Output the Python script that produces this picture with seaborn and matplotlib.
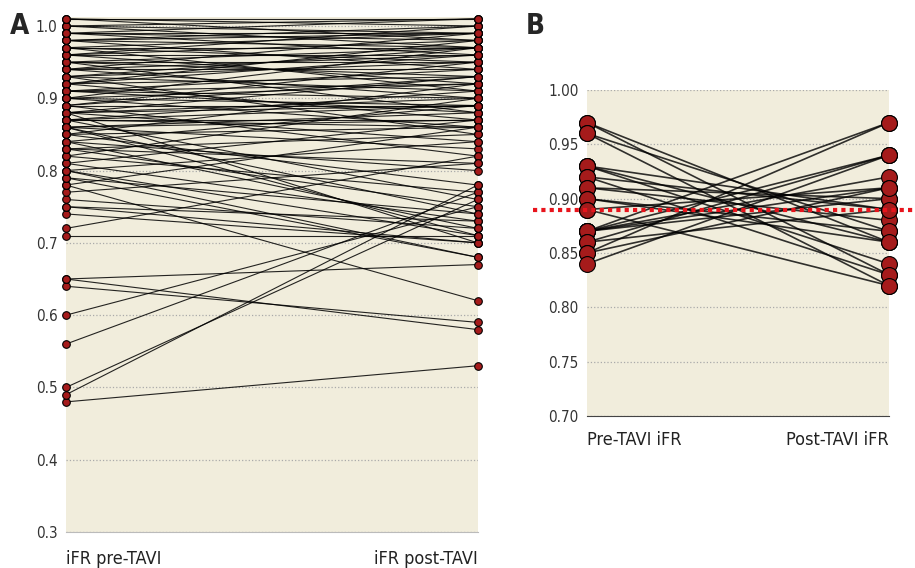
import pandas as pd
import matplotlib.pyplot as plt
import seaborn as sns

# panel A: iFR before / after TAVI, one pair per vessel
pre_a = [0.48, 0.49, 0.50, 0.56, 0.60, 0.64, 0.65, 0.65, 0.71, 0.72,
         0.74, 0.75, 0.75, 0.76, 0.77, 0.78, 0.78, 0.79, 0.79, 0.80,
         0.80, 0.80, 0.81, 0.81, 0.82, 0.82, 0.83, 0.83, 0.84, 0.84,
         0.85, 0.85, 0.86, 0.87, 0.88, 0.86,
         0.86, 0.86, 0.87, 0.87, 0.87, 0.88, 0.88, 0.88, 0.89, 0.89,
         0.89, 0.90, 0.90, 0.90, 0.91, 0.91, 0.91, 0.92, 0.92, 0.92,
         0.93, 0.93, 0.93, 0.94, 0.94, 0.94, 0.95, 0.95, 0.95, 0.96,
         0.96, 0.96, 0.97, 0.97, 0.97, 0.98, 0.98, 0.98, 0.99, 0.99,
         0.99, 1.00, 1.00, 1.00, 1.01, 1.01, 1.01,
         0.94, 0.95, 0.96, 0.97, 0.98, 0.99, 0.93, 0.92, 0.91, 0.90,
         0.89, 0.88, 0.87, 0.86, 0.85, 0.84, 0.83]
post_a = [0.53, 0.78, 0.76, 0.77, 0.75, 0.59, 0.58, 0.67, 0.71, 0.82,
          0.70, 0.70, 0.73, 0.72, 0.81, 0.62, 0.86, 0.68, 0.74, 0.68,
          0.71, 0.84, 0.73, 0.87, 0.77, 0.90, 0.75, 0.85, 0.72, 0.89,
          0.78, 0.92, 0.74, 0.76, 0.70, 0.71,
          0.88, 0.83, 0.87, 0.91, 0.86, 0.93, 0.84, 0.89, 0.89, 0.95,
          0.82, 0.86, 0.92, 0.97, 0.88, 0.94, 0.90, 0.87, 0.93, 0.98,
          0.91, 0.95, 0.85, 0.96, 0.90, 0.99, 0.93, 0.97, 0.88, 0.98,
          0.92, 1.00, 0.95, 0.99, 0.91, 0.97, 1.00, 0.94, 0.98, 1.01,
          0.96, 0.99, 1.01, 0.97, 1.00, 1.01, 0.98,
          0.94, 0.95, 0.96, 0.97, 0.99, 0.99, 0.97, 0.96, 0.92, 0.89,
          0.93, 0.90, 0.89, 0.87, 0.86, 0.80, 0.81]

# panel B: vessels with pre-TAVI iFR in the grey zone
pre_b = [0.97, 0.97, 0.96, 0.96, 0.93, 0.93, 0.93, 0.92, 0.92, 0.91,
         0.91, 0.90, 0.90, 0.89, 0.89, 0.87, 0.87, 0.87, 0.87, 0.87,
         0.86, 0.86, 0.85, 0.85, 0.84]
post_b = [0.86, 0.83, 0.87, 0.82, 0.89, 0.86, 0.84, 0.89, 0.83, 0.90,
          0.88, 0.87, 0.86, 0.82, 0.91, 0.97, 0.94, 0.92, 0.91, 0.90,
          0.94, 0.89, 0.97, 0.91, 0.94]
cutoff = 0.89

labels_a = ['iFR pre-TAVI', 'iFR post-TAVI']
labels_b = ['Pre-TAVI iFR', 'Post-TAVI iFR']

BG = '#f1eddc'
DOT = '#a51b1b'

sns.set_style('white')
plt.rcParams['font.family'] = ['DejaVu Sans']
plt.rcParams['font.stretch'] = 'condensed'


def long_table(pre, post):
    rows = []
    for i, (a, b) in enumerate(zip(pre, post)):
        rows.append({'pid': i, 'pos': 0, 'iFR': a})
        rows.append({'pid': i, 'pos': 1, 'iFR': b})
    return pd.DataFrame(rows)


def draw_panel(ax, df, lw, ms, alpha):
    ax.set_facecolor(BG)
    sns.lineplot(data=df, x='pos', y='iFR', units='pid', estimator=None,
                 color='black', lw=lw, alpha=alpha, ax=ax, legend=False)
    sns.scatterplot(data=df, x='pos', y='iFR', color=DOT, edgecolor='black',
                    linewidth=0.8, s=ms, ax=ax, clip_on=False, zorder=5, legend=False)
    ax.set_xlim(0, 1)
    ax.set_xticks([])
    ax.set_xlabel('')
    ax.set_ylabel('')
    for s in ['top', 'right', 'left']:
        ax.spines[s].set_visible(False)
    ax.tick_params(axis='y', length=0, pad=6, colors='#333333')
    ax.yaxis.grid(True, linestyle=':', color='#aaaaaa', lw=0.9)
    ax.set_axisbelow(True)


fig = plt.figure(figsize=(9.15, 5.68), dpi=100)

ax1 = fig.add_axes([0.0721, 0.0634, 0.450, 0.9067])
draw_panel(ax1, long_table(pre_a, post_a), 0.8, 30, 0.85)
ax1.set_ylim(0.3, 1.0125)
ax1.set_yticks([0.3, 0.4, 0.5, 0.6, 0.7, 0.8, 0.9, 1.0])
ax1.set_yticklabels(['0.3', '0.4', '0.5', '0.6', '0.7', '0.8', '0.9', '1.0'], fontsize=11)
ax1.spines['bottom'].set_color('#bbbbbb')
ax1.text(0.0, -0.035, labels_a[0], transform=ax1.transAxes, ha='left', va='top',
         fontsize=13, color='#222222')
ax1.text(1.0, -0.035, labels_a[1], transform=ax1.transAxes, ha='right', va='top',
         fontsize=13, color='#222222')

ax2 = fig.add_axes([0.6415, 0.2676, 0.330, 0.574])
draw_panel(ax2, long_table(pre_b, post_b), 1.2, 130, 0.8)
ax2.set_ylim(0.70, 1.00)
ax2.set_yticks([0.70, 0.75, 0.80, 0.85, 0.90, 0.95, 1.00])
ax2.set_yticklabels(['0.70', '0.75', '0.80', '0.85', '0.90', '0.95', '1.00'], fontsize=11)
ax2.spines['bottom'].set_color('#444444')
ax2.axhline(cutoff, xmin=-0.18, xmax=1.09, color='#e8141c', lw=3,
            linestyle=(0, (1, 1)), clip_on=False, zorder=6)
ax2.text(0.0, -0.045, labels_b[0], transform=ax2.transAxes, ha='left', va='top',
         fontsize=13, color='#222222')
ax2.text(1.0, -0.045, labels_b[1], transform=ax2.transAxes, ha='right', va='top',
         fontsize=13, color='#222222')

fig.text(0.011, 0.955, 'A', fontsize=20, fontweight='bold', ha='left', va='center')
fig.text(0.575, 0.955, 'B', fontsize=20, fontweight='bold', ha='left', va='center')

fig.savefig('out.png', dpi=100)
